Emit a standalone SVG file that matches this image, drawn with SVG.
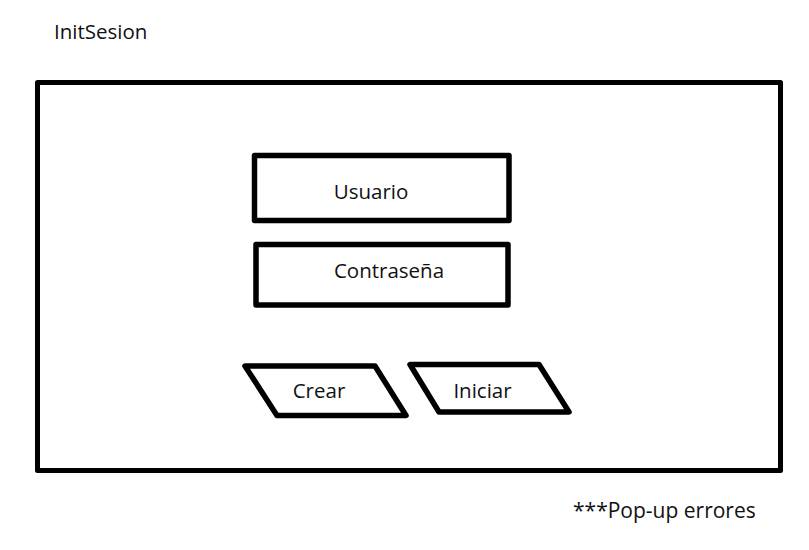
<svg xmlns="http://www.w3.org/2000/svg" width="809" height="550" viewBox="0 0 809 550">
<style>
.box{fill:none;stroke:#000;stroke-width:5.5;stroke-linejoin:round}
.lbl{font-family:"Open Sans","Noto Sans",sans-serif;font-size:20.5px;fill:#111}
.c{text-anchor:middle}
</style>
<rect width="809" height="550" fill="#fff"/>
<text class="lbl" x="54" y="39">InitSesion</text>
<g id="screen">
<rect class="box" x="37.5" y="82.5" width="743" height="388" style="stroke-width:5"/>
</g>
<g id="usuario">
<rect class="box" x="254.5" y="155.5" width="254.5" height="65"/>
<text class="lbl c" x="371" y="199">Usuario</text>
</g>
<g id="contrasena">
<rect class="box" x="256" y="244.5" width="252" height="60.5"/>
<text class="lbl c" x="389" y="278">Contraseña</text>
</g>
<g id="crear">
<polygon class="box" points="245,366 375,366 406,415.5 277,415.5"/>
<text class="lbl c" x="319" y="398">Crear</text>
</g>
<g id="iniciar">
<polygon class="box" points="410,364.5 539,364.5 569,412 439,412"/>
<text class="lbl c" x="482.5" y="398">Iniciar</text>
</g>
<g id="connectors"></g>
<text class="lbl" x="573" y="518" style="font-size:21px">***Pop-up errores</text>
</svg>
